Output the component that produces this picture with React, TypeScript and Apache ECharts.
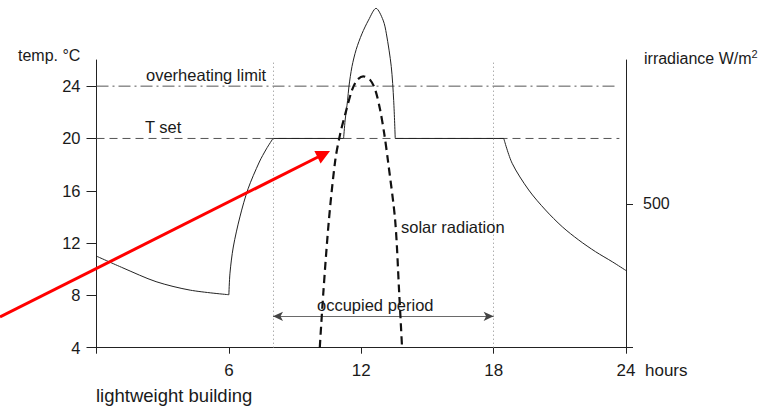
import React, { useEffect, useRef } from "react";
import * as echarts from "echarts";

// ---- axes ----
const hourTicks = [0, 6, 12, 18, 24];
const tempTicks = [4, 8, 12, 16, 20, 24];
const irradianceTicks = [500];

// ---- reference levels ----
const overheatingLimit = 24;
const tSet = 20;
const occupiedStart = 8;
const occupiedEnd = 18;
const occupiedArrowLevel = 6.4;

// ---- room temperature (lightweight building) ----
const nightHours = [0, 1.2, 2.7, 4.25, 6.0];
const nightTemps = [11.0, 10.1, 9.05, 8.4, 8.05];

const heatUpHours = [6.0, 6.05, 6.2, 6.5, 6.87, 7.38, 7.7, 8.0];
const heatUpTemps = [8.05, 9.7, 11.7, 14.0, 16.15, 18.2, 19.2, 20.0];

const morningFlatHours = [8.0, 11.2];
const morningFlatTemps = [20, 20];

const peakHours = [11.2, 11.27, 11.38, 11.44, 11.58, 11.77, 12.03, 12.33, 12.67, 12.99, 13.14, 13.36, 13.47, 13.54];
const peakTemps = [20, 21.4, 22.9, 23.95, 25.5, 26.8, 28.0, 29.05, 29.95, 29.05, 28.0, 25.5, 22.9, 20];

const afternoonFlatHours = [13.54, 18.46];
const afternoonFlatTemps = [20, 20];

const eveningHours = [18.46, 18.84, 19.59, 20.35, 21.11, 21.86, 22.62, 23.38, 24.0];
const eveningTemps = [20.0, 18.1, 16.06, 14.53, 13.25, 12.23, 11.34, 10.57, 9.9];

// ---- solar radiation (W/m2) ----
const solarHours = [10.12, 10.28, 10.53, 10.82, 11.05, 11.32, 11.58, 11.81, 12.09, 12.41, 12.64, 12.86, 13.04, 13.21, 13.54, 13.72, 13.85];
const solarValues = [0, 190, 440, 650, 745, 825, 895, 930, 943, 930, 895, 825, 745, 650, 440, 190, 0];

const zip = (xs: number[], ys: number[]) => xs.map((x, i) => [x, ys[i]]);

const FONT = "Liberation Sans, Arial, Helvetica, sans-serif";
const TXT = "#1a1a1a";

export default function App() {
  const ref = useRef<HTMLDivElement>(null);

  useEffect(() => {
    document.body.style.margin = "0";
    const chart = echarts.init(ref.current!, undefined, { renderer: "svg" });

    const tempLine = (data: number[][], smooth: number | boolean) => ({
      type: "line",
      xAxisIndex: 0,
      yAxisIndex: 0,
      data,
      smooth,
      showSymbol: false,
      symbol: "none",
      clip: false,
      silent: true,
      lineStyle: { color: "#222", width: 1 },
      z: 4,
    });

    const option: any = {
      animation: false,
      backgroundColor: "#ffffff",
      grid: { left: 96.5, right: 151, top: 60, bottom: 58.3, containLabel: false, outerBoundsMode: "none" },
      xAxis: {
        type: "value",
        min: hourTicks[0],
        max: hourTicks[hourTicks.length - 1],
        interval: 6,
        axisLine: { show: true, lineStyle: { color: "#222", width: 1 } },
        axisTick: { show: true, length: 6, lineStyle: { color: "#222" } },
        axisLabel: {
          formatter: (v: number) => (v === 0 ? "" : String(v)),
          margin: 14,
          fontSize: 17,
          color: TXT,
          fontFamily: FONT,
        },
        splitLine: { show: false },
      },
      yAxis: [
        {
          type: "value",
          position: "left",
          min: 4,
          max: 26,
          interval: 4,
          axisLine: { show: true, lineStyle: { color: "#222", width: 1 } },
          axisTick: { show: true, length: 10, customValues: tempTicks, lineStyle: { color: "#222" } },
          axisLabel: { customValues: tempTicks, margin: 16, fontSize: 16.5, color: TXT, fontFamily: FONT },
          splitLine: { show: false },
        },
        {
          type: "value",
          position: "right",
          min: 0,
          max: 1000,
          interval: 500,
          axisLine: { show: true, lineStyle: { color: "#222", width: 1 } },
          axisTick: { show: true, length: 7, customValues: [0, ...irradianceTicks], lineStyle: { color: "#222" } },
          axisLabel: { customValues: irradianceTicks, margin: 17, fontSize: 16, color: TXT, fontFamily: FONT },
          splitLine: { show: false },
        },
      ],
      series: [
        {
          type: "line",
          name: "overheating limit",
          data: [[0, overheatingLimit], [23.6, overheatingLimit]],
          showSymbol: false,
          symbol: "none",
          silent: true,
          lineStyle: { color: "#555", width: 1, type: [12, 4, 2, 4] },
          z: 2,
          markLine: {
            silent: true,
            symbol: "none",
            label: { show: false },
            lineStyle: { color: "#8a8a8a", width: 1, type: [1, 3] },
            data: [{ xAxis: occupiedStart }, { xAxis: occupiedEnd }],
          },
        },
        {
          type: "line",
          name: "T set",
          data: [[0, tSet], [23.7, tSet]],
          showSymbol: false,
          symbol: "none",
          silent: true,
          lineStyle: { color: "#555", width: 1, type: [8, 5] },
          z: 2,
          markLine: {
            silent: true,
            symbol: ["arrow", "arrow"],
            symbolSize: [7, 10],
            label: { show: false },
            lineStyle: { color: "#444", width: 0.8, type: "solid" },
            itemStyle: { color: "#111" },
            data: [[{ coord: [occupiedStart, occupiedArrowLevel] }, { coord: [occupiedEnd, occupiedArrowLevel] }]],
          },
        },
        tempLine(zip(nightHours, nightTemps), 0.3),
        tempLine(zip(heatUpHours, heatUpTemps), 0.3),
        tempLine(zip(morningFlatHours, morningFlatTemps), false),
        tempLine(zip(peakHours, peakTemps), 0.3),
        tempLine(zip(afternoonFlatHours, afternoonFlatTemps), false),
        tempLine(zip(eveningHours, eveningTemps), 0.3),
        {
          type: "line",
          name: "solar radiation",
          yAxisIndex: 1,
          data: zip(solarHours, solarValues),
          smooth: 0.3,
          showSymbol: false,
          symbol: "none",
          clip: false,
          silent: true,
          lineStyle: { color: "#111", width: 2.2, type: [8, 5] },
          z: 5,
        },
      ],
      graphic: [
        { type: "text", x: 18, y: 55, z: 50, style: { text: "temp. °C", font: `16px ${FONT}`, fill: TXT, verticalAlign: "middle", textVerticalAlign: "middle" } },
        {
          type: "text",
          x: 644,
          y: 58,
          z: 50,
          style: {
            text: "{a|irradiance W/m}{s|2}",
            fill: TXT,
            verticalAlign: "middle",
            textVerticalAlign: "middle",
            rich: {
              a: { fontSize: 16, fontFamily: FONT, fill: TXT, lineHeight: 20 },
              s: { fontSize: 11, fontFamily: FONT, fill: TXT, lineHeight: 12, verticalAlign: "top" },
            },
          },
        },
        { type: "text", x: 146, y: 75, z: 50, style: { text: "overheating limit", font: `16.5px ${FONT}`, fill: TXT, verticalAlign: "middle", textVerticalAlign: "middle" } },
        { type: "text", x: 145, y: 127, z: 50, style: { text: "T set", font: `16.5px ${FONT}`, fill: TXT, verticalAlign: "middle", textVerticalAlign: "middle" } },
        { type: "text", x: 401, y: 227, z: 50, style: { text: "solar radiation", font: `16.5px ${FONT}`, fill: TXT, verticalAlign: "middle", textVerticalAlign: "middle" } },
        { type: "text", x: 317, y: 305, z: 50, style: { text: "occupied period", font: `16.5px ${FONT}`, fill: TXT, verticalAlign: "middle", textVerticalAlign: "middle" } },
        { type: "text", x: 645, y: 370, z: 50, style: { text: "hours", font: `17px ${FONT}`, fill: TXT, verticalAlign: "middle", textVerticalAlign: "middle" } },
        { type: "text", x: 96, y: 395, z: 50, style: { text: "lightweight building", font: `18.5px ${FONT}`, fill: TXT, verticalAlign: "middle", textVerticalAlign: "middle" } },
        { type: "line", z: 60, shape: { x1: 0, y1: 317, x2: 318, y2: 157 }, style: { stroke: "#ff0000", lineWidth: 3 } },
        { type: "polygon", z: 60, shape: { points: [[330, 151], [314.4, 151], [320.6, 163.6]] }, style: { fill: "#ff0000" } },
      ],
    };

    chart.setOption(option);
    return () => chart.dispose();
  }, []);

  return <div ref={ref} style={{ position: "fixed", left: 0, top: 0, width: 777, height: 406 }} />;
}
